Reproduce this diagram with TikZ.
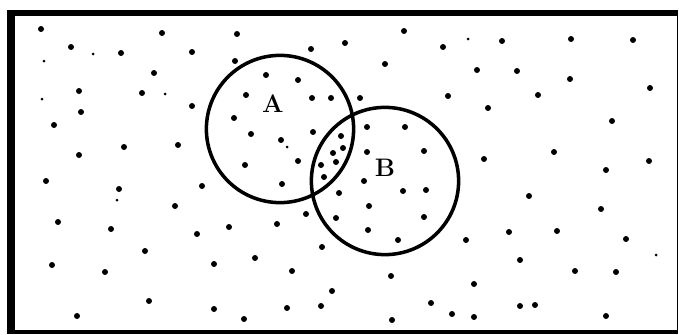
\documentclass[tikz,border=0pt]{standalone}
\usepackage{tikz}
\usetikzlibrary{positioning}
\tikzset{
  setring/.style={draw=black, line width=2.5pt, circle, minimum size=3.68cm, inner sep=0pt},
  setlabel/.style={font={\fontsize{18}{20}\selectfont\bfseries}, inner sep=0pt},
  speck/.style={fill=black},
}

\begin{document}
\begin{tikzpicture}[x=0.025cm, y=-0.025cm]
    \useasboundingbox (0,0) rectangle (679,335);
    % frame of the universe
    \draw[line width=0.2cm] (11,12) -- (11,333);
    \draw[line width=0.13cm] (7,13) -- (678,13);
    \draw[line width=0.04cm] (677.5,11) -- (677.5,333);
    \draw[line width=0.08cm] (7,332) -- (678,332);
    % the two sets
    \node[setring] (ringA) at (280,129) {};
    \node[setring] (ringB) at (385,181) {};
    \node[setlabel] (labA) at (273,104) {A};
    \node[setlabel] (labB) at (385,168) {B};
    % scattered points
    \foreach \px/\py in {41/29, 162/33, 71/47, 121/53, 192/52, 154/73, 79/91, 142/93,
        81/112, 192/106, 54/125, 124/147, 178/145, 79/155,
        237/34, 404/31, 345/43, 311/49, 443/47, 235/61, 385/64, 266/75, 298/80,
        246/95, 312/98, 331/98, 360/98, 448/96, 234/118, 251/134, 313/132, 281/140,
        367/127, 405/127, 341/136, 343/148, 333/153, 367/152, 424/151, 245/165,
        298/161, 321/165, 336/162,
        502/41, 571/39, 633/40, 477/70, 517/71, 570/79, 650/88, 538/95, 488/108,
        612/121, 554/152, 484/159, 649/161, 606/170,
        46/181, 119/189, 202/186, 175/206, 58/222, 111/229, 197/234, 229/227,
        145/251, 52/265, 105/272, 214/264, 149/301, 77/316, 214/309,
        324/177, 282/184, 364/181, 339/193, 403/191, 426/190, 369/206, 306/214,
        336/218, 424/217, 277/224, 368/230, 398/240, 322/247, 255/258, 292/271,
        391/276, 332/291, 287/308, 321/306, 431/303, 452/314, 244/319, 392/320,
        529/196, 601/209, 509/232, 557/231, 466/240, 626/239, 520/260, 575/271,
        616/272, 474/284, 520/306, 535/305, 474/317, 606/316}
      \fill[speck] (\px,\py) circle (3);
    % faint specks
    \foreach \px/\py in {93/54, 44/61, 165/94, 42/99, 117/200, 287/147, 468/39, 656/255}
      \fill[speck] (\px,\py) circle (1.5);
\end{tikzpicture}
\end{document}
